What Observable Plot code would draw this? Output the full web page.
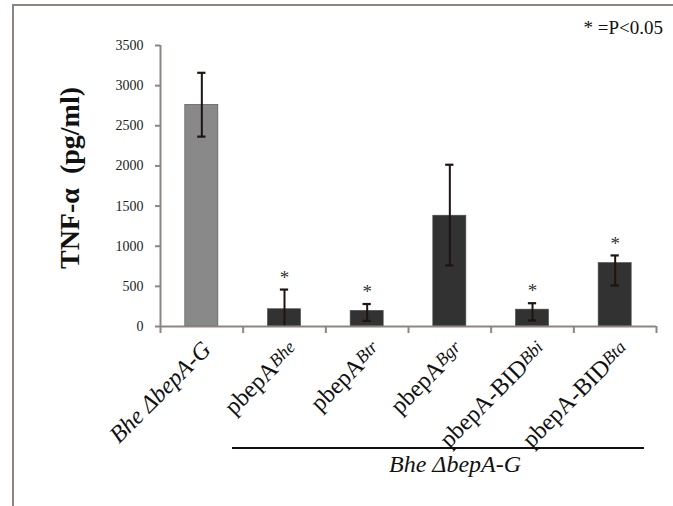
<!DOCTYPE html>
<html>
<head>
<meta charset="utf-8">
<script src="https://cdn.jsdelivr.net/npm/d3@7"></script>
<script src="https://cdn.jsdelivr.net/npm/@observablehq/plot@0.6"></script>
<style>
  html, body { margin: 0; padding: 0; background: #fff; }
  #wrap { position: relative; width: 673px; height: 506px; overflow: hidden; font-family: "Liberation Serif", "Times New Roman", serif; }
  #frame { position: absolute; left: 12px; top: 4px; width: 720px; height: 600px; border-left: 2px solid #8c8582; border-top: 2px solid #8c8582; }
  #chart { position: absolute; left: 0; top: 0; }
  #chart svg, #chart svg text, #chart svg g { font-family: "Liberation Serif", "Times New Roman", serif !important; }
  .note { position: absolute; white-space: nowrap; color: #111; font-family: "Liberation Serif", "Times New Roman", serif; }
</style>
</head>
<body>
<div id="wrap">
  <div id="frame"></div>
  <div id="chart"></div>
  <div class="note" id="ylab" style="left:70px; top:178px; font-size:28px; font-weight:bold; transform: translate(-50%,-50%) rotate(-90deg);">TNF-α&nbsp; (pg/ml)</div>
  <div class="note" id="pnote" style="right:10px; top:17px; font-size:19px;">* =P&lt;0.05</div>
  <div class="note" id="groupline" style="left:232px; top:447px; width:412px; height:0; border-top:2.5px solid #111;"></div>
  <div class="note" id="grouplab" style="left:455px; top:451px; font-size:24px; font-style:italic; transform: translateX(-50%);">Bhe ΔbepA-G</div>
</div>
<script>
// ---- data ----
const labelMain = ["Bhe ΔbepA-G", "pbepA", "pbepA", "pbepA", "pbepA-BID", "pbepA-BID"];
const labelSub  = ["", "Bhe", "Btr", "Bgr", "Bbi", "Bta"];
const means     = [2760, 215, 195, 1380, 210, 790];
const errLow    = [2365, 0, 70, 760, 75, 510];
const errHigh   = [3160, 460, 280, 2015, 290, 885];
const significant = [false, true, true, false, true, true];
const yTicks    = [0, 500, 1000, 1500, 2000, 2500, 3000, 3500];

const idx = d3.range(labelMain.length);
const n = idx.length;
const serif = "Liberation Serif";
const axisColor = "#8c8582";
const errColor = "#1c1511";
const barColor = i => i === 0 ? "#898989" : "#323232";

const chart = Plot.plot({
  width: 673,
  height: 506,
  marginLeft: 160,
  marginRight: 17,
  marginTop: 45,
  marginBottom: 180,
  style: { fontFamily: serif, fontSize: "14px", color: "#222", background: "transparent" },
  x: { domain: [0, n], axis: null },
  y: { domain: [0, 3500], axis: null },
  marks: [
    Plot.rect(idx, { x1: i => i + 0.3, x2: i => i + 0.7, y1: 0, y2: i => means[i], fill: barColor, stroke: "#4a4a4a", strokeWidth: 0.6 }),
    Plot.ruleX(idx, { x: i => i + 0.5, y1: i => errLow[i], y2: i => errHigh[i], stroke: errColor, strokeWidth: 2 }),
    Plot.ruleY(idx, { x1: i => i + 0.45, x2: i => i + 0.55, y: i => errHigh[i], stroke: errColor, strokeWidth: 2.2 }),
    Plot.ruleY(idx.filter(i => errLow[i] > 0), { x1: i => i + 0.45, x2: i => i + 0.55, y: i => errLow[i], stroke: errColor, strokeWidth: 2.2 }),
    Plot.text(idx.filter(i => significant[i]), { x: i => i + 0.5, y: i => errHigh[i], text: () => "*", fontSize: 19, fontFamily: serif, dy: -12, fill: "#333" }),
    Plot.ruleX([0], { y1: 0, y2: 3500, stroke: axisColor, strokeWidth: 2 }),
    Plot.ruleY([0], { x1: 0, x2: n, stroke: axisColor, strokeWidth: 2 }),
    Plot.axisY({ ticks: yTicks, tickSize: 5, tickPadding: 12, stroke: axisColor, strokeWidth: 2, fill: "#222", fontSize: 14, fontFamily: serif, tickFormat: d => String(d) }),
    Plot.axisX({ ticks: d3.range(0, n + 1), tickSize: 7, stroke: axisColor, strokeWidth: 2, tickFormat: () => "" }),
    Plot.text(idx, { x: i => i + 0.5, y: 0, text: i => labelMain[i] + labelSub[i], rotate: -45, textAnchor: "end", dx: 9, dy: 19, fontSize: 24, fontFamily: serif, fill: "#111" })
  ]
});
document.getElementById("chart").appendChild(chart);

// rich text for the x labels: roman main part + smaller italic raised part;
// the first label is entirely italic
const NS = "http://www.w3.org/2000/svg";
chart.querySelectorAll("text").forEach(el => {
  const i = idx.find(j => el.textContent === labelMain[j] + labelSub[j]);
  if (i === undefined) return;
  el.textContent = "";
  const a = document.createElementNS(NS, "tspan");
  a.textContent = labelMain[i];
  if (labelSub[i] === "") {
    a.setAttribute("font-style", "italic");
    el.setAttribute("transform", el.getAttribute("transform").replace(/translate\(([-\d.]+),/, (m, x) => `translate(${+x - 4},`));
  }
  el.appendChild(a);
  if (labelSub[i] !== "") {
    const b = document.createElementNS(NS, "tspan");
    b.textContent = labelSub[i];
    b.setAttribute("font-style", "italic");
    b.setAttribute("font-size", "18");
    b.setAttribute("dy", "-4");
    el.appendChild(b);
  }
});
</script>
</body>
</html>
